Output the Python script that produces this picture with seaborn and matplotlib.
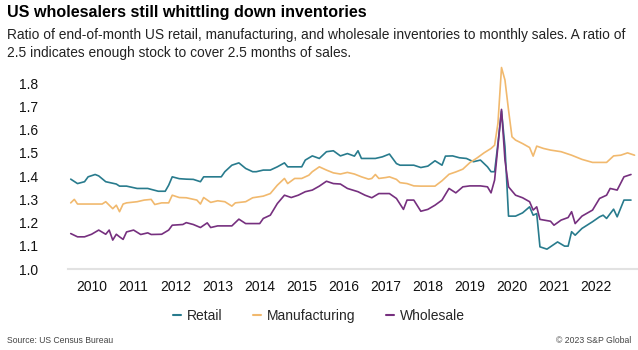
import pandas as pd
import matplotlib
matplotlib.use("Agg")
import matplotlib.pyplot as plt
import seaborn as sns

# Inventory-to-sales ratios (month, value)
retail_months = ["2010-01", "2010-03", "2010-05", "2010-06", "2010-08", "2010-09", "2010-11",
                 "2011-02", "2011-03", "2011-05", "2011-08", "2011-11", "2011-12",
                 "2012-02", "2012-04", "2012-05", "2012-06", "2012-08", "2012-10", "2012-12",
                 "2013-02", "2013-03", "2013-08", "2013-09", "2013-11",
                 "2014-01", "2014-03", "2014-05", "2014-06", "2014-08", "2014-10", "2014-12",
                 "2015-02", "2015-03", "2015-07", "2015-08", "2015-10", "2015-12",
                 "2016-02", "2016-04", "2016-06", "2016-08", "2016-10", "2016-11", "2016-12",
                 "2017-04", "2017-06", "2017-08", "2017-10", "2017-11",
                 "2018-03", "2018-05", "2018-07", "2018-09", "2018-11", "2018-12",
                 "2019-02", "2019-04", "2019-06", "2019-08", "2019-10", "2019-12",
                 "2020-01", "2020-02", "2020-03", "2020-04", "2020-05", "2020-06", "2020-08",
                 "2020-10", "2020-12",
                 "2021-01", "2021-02", "2021-03", "2021-05", "2021-08", "2021-10", "2021-11",
                 "2021-12",
                 "2022-01", "2022-03", "2022-06", "2022-08", "2022-09", "2022-10", "2022-12",
                 "2023-01", "2023-03", "2023-05"]
retail_values = [1.387, 1.368, 1.376, 1.397, 1.407, 1.401, 1.376,
                 1.366, 1.357, 1.357, 1.347, 1.347, 1.343,
                 1.335, 1.335, 1.361, 1.397, 1.389, 1.387, 1.386,
                 1.376, 1.397, 1.397, 1.419, 1.447,
                 1.457, 1.433, 1.419, 1.419, 1.426, 1.426, 1.440,
                 1.457, 1.440, 1.440, 1.469, 1.487, 1.476,
                 1.505, 1.509, 1.487, 1.497, 1.486, 1.509, 1.476,
                 1.476, 1.483, 1.495, 1.454, 1.447,
                 1.447, 1.437, 1.443, 1.466, 1.447, 1.486,
                 1.487, 1.479, 1.476, 1.462, 1.469, 1.440,
                 1.419, 1.419, 1.540, 1.680, 1.526, 1.228, 1.228,
                 1.242, 1.268,
                 1.232, 1.239, 1.096, 1.086, 1.117, 1.099, 1.099,
                 1.161,
                 1.146, 1.175, 1.204, 1.225, 1.232, 1.218, 1.258,
                 1.225, 1.297, 1.297]

manuf_months = ["2010-01", "2010-02", "2010-03", "2010-10", "2010-11",
                "2011-01", "2011-02", "2011-03", "2011-04", "2011-05", "2011-08", "2011-10", "2011-12",
                "2012-01", "2012-03", "2012-05", "2012-06", "2012-08", "2012-10",
                "2013-01", "2013-02", "2013-03", "2013-05", "2013-07", "2013-09", "2013-11", "2013-12",
                "2014-03", "2014-05", "2014-08", "2014-10", "2014-12",
                "2015-02", "2015-03", "2015-05", "2015-07", "2015-09", "2015-10", "2015-12",
                "2016-02", "2016-04", "2016-06", "2016-08", "2016-10", "2016-12",
                "2017-02", "2017-03", "2017-04", "2017-05", "2017-07", "2017-08", "2017-10", "2017-11",
                "2018-01", "2018-03", "2018-05", "2018-09", "2018-11",
                "2019-01", "2019-03", "2019-05", "2019-07", "2019-09", "2019-11",
                "2020-01", "2020-02", "2020-03", "2020-04", "2020-05", "2020-06", "2020-07",
                "2020-08", "2020-10", "2020-12",
                "2021-01", "2021-02", "2021-04", "2021-06", "2021-09", "2021-12",
                "2022-03", "2022-06", "2022-10", "2022-12",
                "2023-02", "2023-04", "2023-06"]
manuf_values = [1.285, 1.300, 1.280, 1.280, 1.290,
                1.260, 1.275, 1.247, 1.280, 1.285, 1.290, 1.297, 1.300,
                1.278, 1.285, 1.285, 1.318, 1.308, 1.307,
                1.297, 1.280, 1.308, 1.287, 1.294, 1.290, 1.271, 1.285,
                1.290, 1.307, 1.314, 1.325, 1.361,
                1.390, 1.368, 1.390, 1.390, 1.404, 1.419, 1.440,
                1.426, 1.414, 1.409, 1.416, 1.409, 1.397,
                1.387, 1.390, 1.407, 1.390, 1.394, 1.397, 1.386, 1.372,
                1.368, 1.358, 1.357, 1.357, 1.380,
                1.408, 1.418, 1.430, 1.458, 1.478, 1.500,
                1.519, 1.533, 1.627, 1.867, 1.813, 1.684, 1.569,
                1.555, 1.540, 1.523,
                1.486, 1.529, 1.519, 1.512, 1.505, 1.490,
                1.472, 1.459, 1.459, 1.487,
                1.490, 1.500, 1.490]

whole_months = ["2010-01", "2010-03", "2010-05", "2010-07", "2010-09", "2010-11", "2010-12",
                "2011-01", "2011-02", "2011-03", "2011-04", "2011-05", "2011-07", "2011-09",
                "2011-11", "2011-12",
                "2012-03", "2012-05", "2012-06", "2012-09", "2012-10", "2012-12",
                "2013-02", "2013-04", "2013-05", "2013-07", "2013-11",
                "2014-01", "2014-03", "2014-07", "2014-08", "2014-10", "2014-12",
                "2015-02", "2015-04", "2015-06", "2015-08", "2015-10", "2015-12",
                "2016-02", "2016-04", "2016-06", "2016-08", "2016-11",
                "2017-01", "2017-03", "2017-05", "2017-08", "2017-10", "2017-12",
                "2018-01", "2018-03", "2018-05", "2018-07", "2018-09", "2018-11",
                "2019-01", "2019-03", "2019-05", "2019-07", "2019-10", "2019-12",
                "2020-01", "2020-02", "2020-04", "2020-05", "2020-06", "2020-08", "2020-10",
                "2020-12",
                "2021-01", "2021-02", "2021-03", "2021-06", "2021-07", "2021-09", "2021-11",
                "2021-12",
                "2022-01", "2022-03", "2022-06", "2022-08", "2022-10", "2022-11",
                "2023-01", "2023-03", "2023-05"]
whole_values = [1.153, 1.139, 1.139, 1.150, 1.168, 1.150, 1.168,
                1.125, 1.150, 1.139, 1.128, 1.160, 1.168, 1.149,
                1.156, 1.149,
                1.150, 1.168, 1.189, 1.192, 1.200, 1.192,
                1.179, 1.199, 1.179, 1.186, 1.186,
                1.215, 1.196, 1.196, 1.218, 1.232, 1.282,
                1.318, 1.308, 1.318, 1.333, 1.340, 1.357,
                1.378, 1.368, 1.366, 1.347, 1.333,
                1.318, 1.307, 1.325, 1.325, 1.304, 1.257,
                1.297, 1.297, 1.249, 1.257, 1.275, 1.297,
                1.347, 1.328, 1.354, 1.358, 1.358, 1.354,
                1.328, 1.383, 1.687, 1.469, 1.354, 1.318, 1.307,
                1.290,
                1.254, 1.268, 1.214, 1.206, 1.189, 1.211, 1.222,
                1.247,
                1.196, 1.228, 1.254, 1.304, 1.318, 1.347,
                1.340, 1.397, 1.407]

series_names = ["Retail", "Manufacturing", "Wholesale"]
series_colors = ["#287b8d", "#f1b96e", "#76307f"]
year_labels = [str(y) for y in range(2010, 2023)]
y_ticks = [1.0, 1.1, 1.2, 1.3, 1.4, 1.5, 1.6, 1.7, 1.8]

frames = []
for name, months, vals in zip(series_names,
                              [retail_months, manuf_months, whole_months],
                              [retail_values, manuf_values, whole_values]):
    frames.append(pd.DataFrame({"Date": pd.to_datetime(months), "Ratio": vals, "Series": name}))
df = pd.concat(frames, ignore_index=True)

sns.set_theme(style="white")
plt.rcParams["font.family"] = ["Liberation Sans", "DejaVu Sans"]

fig = plt.figure(figsize=(6.38, 3.5), dpi=100)
ax = fig.add_axes([0.106, 0.231, 0.894, 0.598])

sns.lineplot(data=df, x="Date", y="Ratio", hue="Series", hue_order=series_names,
             palette=dict(zip(series_names, series_colors)), linewidth=1.2,
             legend=False, ax=ax)

ax.set_xlim(pd.Timestamp("2009-12-05"), pd.Timestamp("2023-07-01"))
ax.set_ylim(1.0, 1.9)
ax.set_yticks(y_ticks)
ax.set_yticklabels([f"{v:.1f}" for v in y_ticks])
ax.set_xticks([pd.Timestamp(f"{y}-07-01") for y in year_labels])
ax.set_xticklabels(year_labels)
ax.tick_params(axis="both", length=0, labelsize=10, colors="#111111")
ax.tick_params(axis="y", pad=21)
ax.tick_params(axis="x", pad=8)
ax.set_xlabel("")
ax.set_ylabel("")
for side in ["top", "right", "left"]:
    ax.spines[side].set_visible(False)
ax.spines["bottom"].set_color("#e2e2e2")
ax.spines["bottom"].set_linewidth(1.5)

handles = [plt.Line2D([], [], color=c, linewidth=1.5) for c in series_colors]
fig.legend(handles, series_names, loc="center", bbox_to_anchor=(0.5, 0.097), ncol=3,
           frameon=False, fontsize=10, handlelength=0.6, handletextpad=0.4,
           columnspacing=2.2)

fig.text(0.011, 0.965, "US wholesalers still whittling down inventories",
         fontsize=11.6, fontweight="bold", color="#000000", va="center")
fig.text(0.011, 0.90, "Ratio of end-of-month US retail, manufacturing, and wholesale inventories to monthly sales. A ratio of",
         fontsize=9.9, color="#222222", va="center")
fig.text(0.011, 0.848, "2.5 indicates enough stock to cover 2.5 months of sales.",
         fontsize=9.9, color="#222222", va="center")
fig.text(0.011, 0.028, "Source: US Census Bureau", fontsize=6.2, color="#444444", va="center")
fig.text(0.99, 0.028, "\u00a9 2023 S&P Global", fontsize=6.2, color="#444444", va="center", ha="right")

fig.savefig("out.png", dpi=100)
